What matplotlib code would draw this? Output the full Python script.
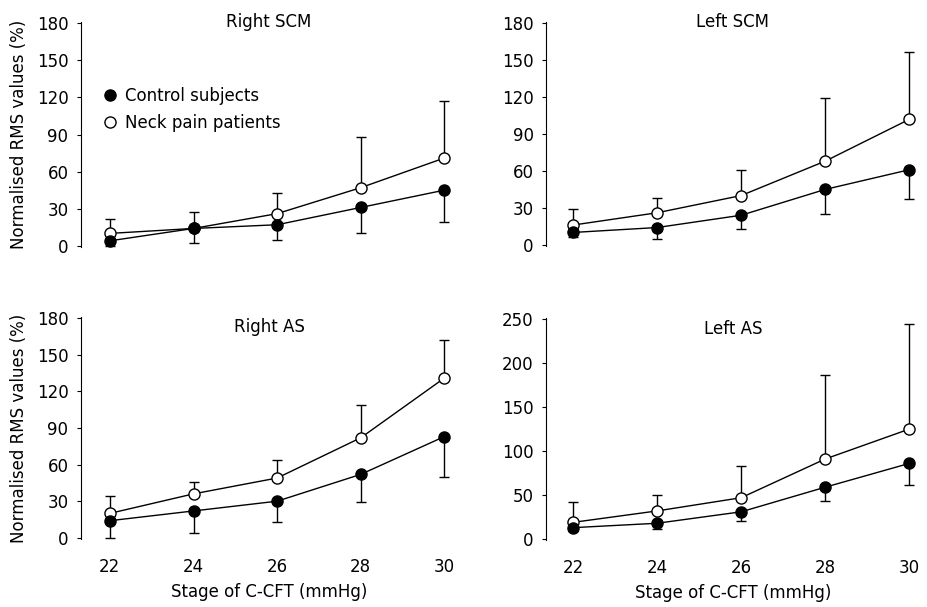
import matplotlib
matplotlib.use("Agg")
import matplotlib.pyplot as plt

stages = [22, 24, 26, 28, 30]
titles = ["Right SCM", "Left SCM", "Right AS", "Left AS"]

ctrl_right_scm = [4, 14, 17, 31, 45]
ctrl_right_scm_sd = [4, 12, 12, 21, 26]
neck_right_scm = [10, 14, 26, 47, 71]
neck_right_scm_sd = [12, 13, 17, 41, 46]

ctrl_left_scm = [10, 14, 24, 45, 61]
ctrl_left_scm_sd = [4, 9, 11, 20, 24]
neck_left_scm = [16, 26, 40, 68, 102]
neck_left_scm_sd = [13, 12, 21, 51, 55]

ctrl_right_as = [14, 22, 30, 52, 83]
ctrl_right_as_sd = [14, 18, 17, 23, 33]
neck_right_as = [20, 36, 49, 82, 131]
neck_right_as_sd = [14, 10, 15, 27, 31]

ctrl_left_as = [13, 18, 31, 59, 86]
ctrl_left_as_sd = [4, 7, 10, 16, 24]
neck_left_as = [19, 32, 47, 91, 125]
neck_left_as_sd = [23, 18, 36, 95, 119]

yticks_scm = [0, 30, 60, 90, 120, 150, 180]
yticks_las = [0, 50, 100, 150, 200, 250]

panels = [
    (ctrl_right_scm, ctrl_right_scm_sd, neck_right_scm, neck_right_scm_sd, yticks_scm),
    (ctrl_left_scm, ctrl_left_scm_sd, neck_left_scm, neck_left_scm_sd, yticks_scm),
    (ctrl_right_as, ctrl_right_as_sd, neck_right_as, neck_right_as_sd, yticks_scm),
    (ctrl_left_as, ctrl_left_as_sd, neck_left_as, neck_left_as_sd, yticks_las),
]

W, H = 927, 607
fig = plt.figure(figsize=(W / 100, H / 100), dpi=100)
plt.rcParams['font.family'] = ['DejaVu Sans']

# axes boxes in pixel coords: (left, right, top, bottom, xlim)
boxes = [
    (81, 457, 22, 247, (21.31, 30.3)),
    (546, 920, 22, 246, (21.36, 30.25)),
    (81, 457, 317, 539, (21.31, 30.3)),
    (546, 920, 318, 540, (21.36, 30.25)),
]
title_offsets = [0, 0, 10, 11]

for i, (p, b, t) in enumerate(zip(panels, boxes, titles)):
    ctrl, csd, neck, nsd, yt = p
    l, r, top, bot, xl = b
    ax = fig.add_axes([l / W, 1 - bot / H, (r - l) / W, (bot - top) / H])
    ax.errorbar(stages, neck, yerr=[[0] * len(nsd), nsd], fmt='-o', color='black',
                mfc='white', mec='black', ms=8, lw=1, elinewidth=1, capsize=3.5,
                capthick=1, label='Neck pain patients', clip_on=False, zorder=3)
    ax.errorbar(stages, ctrl, yerr=[csd, [0] * len(csd)], fmt='-o', color='black',
                mfc='black', mec='black', ms=8, lw=1, elinewidth=1, capsize=3.5,
                capthick=1, label='Control subjects', clip_on=False, zorder=4)
    ax.set_xlim(*xl)
    ax.set_ylim(yt[0] - 1, yt[-1] + 1)
    ax.set_yticks(yt)
    for s in ['top', 'right', 'bottom']:
        ax.spines[s].set_visible(False)
    ax.spines['left'].set_linewidth(0.8)
    ax.tick_params(axis='y', direction='out', length=3, width=0.8, labelsize=12, pad=6)
    ax.set_xticks(stages)
    ax.tick_params(axis='x', length=0, labelsize=12, pad=14)
    ty = 1 - title_offsets[i] / (bot - top)
    ax.text(0.5, ty, t, transform=ax.transAxes, ha='center', va='center', fontsize=12)
    if i < 2:
        ax.set_xticklabels([])
    else:
        ax.set_xlabel('Stage of C-CFT (mmHg)', fontsize=12, labelpad=5)
    if i % 2 == 0:
        ax.set_ylabel('Normalised RMS values (%)', fontsize=12, labelpad=6)
    if i == 0:
        h, lab = ax.get_legend_handles_labels()
        ax.legend([h[1][0], h[0][0]], [lab[1], lab[0]], loc='upper left',
                  bbox_to_anchor=(0.045, 0.74), frameon=False, fontsize=12,
                  handlelength=0.6, handletextpad=0.6, labelspacing=0.55,
                  borderaxespad=0)

fig.savefig('out.png', dpi=100)
